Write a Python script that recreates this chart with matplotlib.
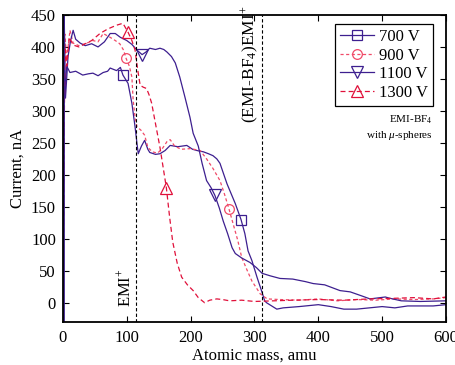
import numpy as np
import matplotlib
matplotlib.use('Agg')
import matplotlib.pyplot as plt

plt.rcParams['font.family'] = ['Liberation Serif', 'DejaVu Serif']
plt.rcParams['mathtext.fontset'] = 'custom'
plt.rcParams['mathtext.rm'] = 'Liberation Serif'
plt.rcParams['mathtext.it'] = 'Liberation Serif:italic'

# 700 V
x700 = [0, 1, 3, 6, 11, 20, 31, 40, 47, 55, 63, 70, 74, 84, 90, 94, 102, 108, 113, 116, 118, 123, 128, 133,
        136, 145, 152, 160, 168, 180, 194, 203, 210, 220, 228, 235, 241, 246, 257, 270, 279, 285, 290, 296,
        304, 312, 316, 319, 335, 345, 370, 400, 420, 440, 460, 480, 500, 520, 540, 560, 580, 600]
y700 = [-30, 450, 330, 370, 360, 362, 356, 358, 359, 355, 360, 362, 367, 363, 368, 356, 343, 312, 275, 249,
        233, 245, 254, 240, 235, 232, 233, 238, 246, 244, 246, 240, 238, 236, 233, 230, 225, 218, 186, 155,
        130, 108, 81, 66, 40, 16, 3, 0, -10, -8, -6, -3, -6, -10, -10, -8, -6, -8, -5, -5, -5, -3]

# 900 V
x900 = [0, 3, 6, 11, 16, 25, 35, 47, 55, 63, 74, 82, 89, 95, 99, 104, 108, 110, 113, 116, 122, 128, 133,
        140, 148, 155, 163, 168, 175, 185, 200, 215, 225, 235, 246, 253, 260, 267, 274, 280, 288, 296, 309,
        320, 340, 370, 400, 430, 460, 490, 520, 550, 580, 600]
y900 = [-30, 420, 380, 426, 406, 402, 405, 410, 408, 421, 415, 410, 405, 395, 382, 370, 353, 317, 290, 275,
        270, 262, 243, 236, 234, 240, 252, 255, 245, 240, 241, 238, 225, 210, 191, 170, 147, 122, 97, 71,
        52, 34, 14, 6, 5, 4, 6, 3, 5, 4, 6, 5, 6, 8]

# 1100 V
x1100 = [0, 2, 4, 8, 12, 16, 20, 27, 35, 45, 55, 65, 74, 82, 90, 100, 108, 116, 124, 130, 136, 145, 152,
         158, 163, 170, 176, 183, 191, 199, 204, 212, 218, 225, 232, 238, 245, 251, 258, 265, 270, 280, 293,
         303, 312, 325, 340, 360, 380, 392, 410, 434, 450, 470, 481, 497, 505, 512, 530, 560, 600]
y1100 = [-30, 450, 320, 385, 410, 426, 412, 406, 402, 405, 400, 408, 421, 421, 415, 410, 404, 395, 388, 392,
         398, 396, 398, 396, 392, 385, 375, 353, 322, 290, 265, 245, 218, 191, 180, 168, 148, 128, 108, 86,
         77, 70, 63, 55, 46, 42, 38, 37, 33, 30, 28, 19, 17, 10, 6, 8, 9, 7, 3, 2, 3]

# 1300 V
x1300 = [0, 3, 6, 10, 16, 25, 35, 45, 58, 70, 84, 94, 102, 108, 113, 117, 121, 126, 131, 135, 139, 145,
         152, 162, 167, 172, 179, 186, 195, 204, 212, 222, 230, 241, 250, 261, 280, 300, 330, 360, 400, 440,
         480, 520, 550, 580, 600]
y1300 = [-30, 400, 370, 415, 403, 400, 405, 410, 421, 428, 434, 437, 423, 410, 395, 365, 340, 337, 335, 325,
         312, 280, 243, 180, 135, 95, 62, 40, 28, 19, 8, 0, 4, 6, 5, 3, 4, 2, 3, 4, 5, 4, 6, 7, 8, 6, 9]

# marker positions (x values on each curve)
mk700 = [94, 279]
mk900 = [99, 260]
mk1100 = [124, 238]
mk1300 = [102, 162]

emi_lines = [114, 312]

blue = '#3d1f8f'
red1 = '#f04a68'
red2 = '#e0103a'

fig = plt.figure(figsize=(4.56, 3.65), dpi=100)
ax = fig.add_axes([0.138, 0.118, 0.840, 0.841])

ax.plot(x700, y700, color=blue, lw=0.9, marker='s', ms=7, mfc='none', mew=0.9,
        markevery=[x700.index(v) for v in mk700], label='700 V')
ax.plot(x900, y900, color=red1, lw=0.9, dashes=(2.5, 2), marker='o', ms=7, mfc='none', mew=0.9,
        markevery=[x900.index(v) for v in mk900], label='900 V')
ax.plot(x1100, y1100, color=blue, lw=0.9, marker='v', ms=8, mfc='none', mew=0.9,
        markevery=[x1100.index(v) for v in mk1100], label='1100 V')
ax.plot(x1300, y1300, color=red2, lw=0.9, dashes=(4, 2.5), marker='^', ms=8, mfc='none', mew=0.9,
        markevery=[x1300.index(v) for v in mk1300], label='1300 V')
# thick start at zero
ax.plot([0.8, 0.8], [-30, 450], color=blue, lw=2.0)

for xv in emi_lines:
    ax.axvline(xv, color='black', lw=0.8, ls=(0, (3, 2)))

ax.text(emi_lines[0] - 2, -6, 'EMI$^{+}$', rotation=90, ha='right', va='bottom', fontsize=12)
ax.text(emi_lines[1] - 2, 464, '(EMI-BF$_{4}$)EMI$^{+}$', rotation=90, ha='right', va='top', fontsize=12.5)

ax.set_xlim(0, 600)
ax.set_ylim(-30, 450)
ax.set_xticks(np.arange(0, 601, 100))
ax.set_yticks(np.arange(0, 451, 50))
ax.tick_params(direction='in', top=True, right=True, labelsize=12, length=4, width=0.8)
ax.tick_params(axis='x', pad=6)
ax.tick_params(axis='y', pad=5)
for s in ax.spines.values():
    s.set_linewidth(1.3)

ax.set_xlabel('Atomic mass, amu', fontsize=12, labelpad=1)
ax.set_ylabel('Current, nA', fontsize=12, labelpad=4)

leg = ax.legend(loc='upper right', bbox_to_anchor=(0.965, 0.97), fontsize=12, fancybox=False,
                edgecolor='black', framealpha=1, handlelength=2.0, handletextpad=0.3,
                borderpad=0.3, labelspacing=0.15, borderaxespad=0)
leg.get_frame().set_linewidth(0.9)

ax.text(0.965, 0.678, 'EMI-BF$_{4}$', transform=ax.transAxes, ha='right', va='top', fontsize=8)
ax.text(0.965, 0.628, 'with $\\mathit{\\mu}$-spheres', transform=ax.transAxes, ha='right', va='top', fontsize=8)

fig.savefig('out.png', dpi=100)
